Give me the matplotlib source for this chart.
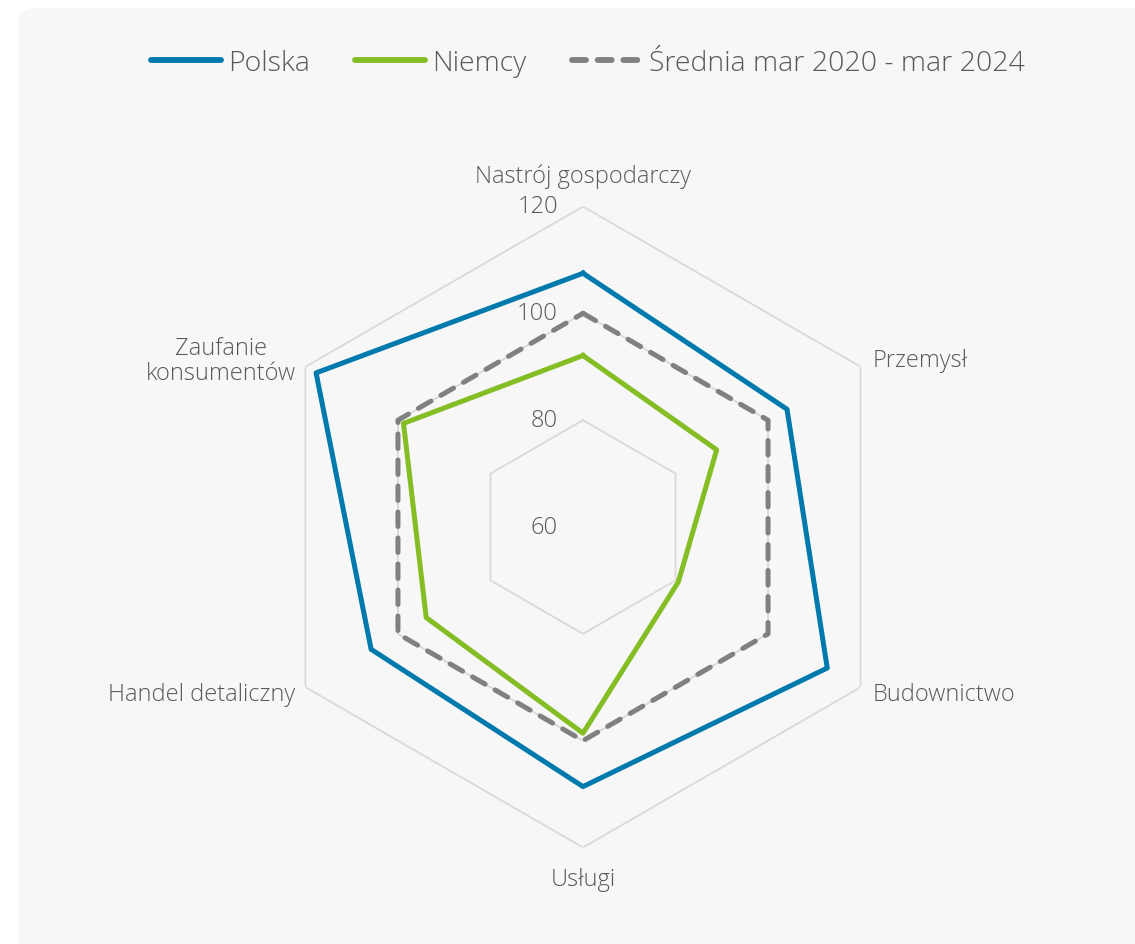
import numpy as np
import matplotlib.pyplot as plt
from matplotlib.patches import FancyBboxPatch
from matplotlib.lines import Line2D

plt.rcParams['font.family'] = ['Open Sans', 'DejaVu Sans']

categories = ['Nastrój gospodarczy', 'Przemysł', 'Budownictwo', 'Usługi',
              'Handel detaliczny', 'Zaufanie\nkonsumentów']
polska = [107.5, 104.1, 112.8, 108.6, 105.8, 117.7]
niemcy = [92.1, 88.9, 80.6, 98.6, 93.9, 98.8]
srednia = [100, 100, 100, 100, 100, 100]
levels = [80, 100, 120]
tick_labels = ['60', '80', '100', '120']

text_col = '#595959'
grid_col = '#d9d9d9'

fig = plt.figure(figsize=(11.35, 9.45), dpi=100)
fig.patch.set_facecolor('white')

# light grey card behind the chart
card = FancyBboxPatch((18 / 1135, -0.05), 1.2, 1.0405,
                      boxstyle='round,pad=0,rounding_size=0.016',
                      transform=fig.transFigure, facecolor='#f7f7f7',
                      edgecolor='none', zorder=-5)
fig.patches.append(card)

ax = fig.add_axes([262.5 / 1135, 96.5 / 945, 641 / 1135, 641 / 945], polar=True)
ax.set_zorder(2)
ax.set_facecolor('none')
ax.set_theta_zero_location('N')
ax.set_theta_direction(-1)
ax.set_ylim(60, 120)
ax.grid(False)
ax.spines['polar'].set_visible(False)
ax.set_xticks([])
ax.set_yticks([])

n = len(categories)
angles = np.linspace(0, 2 * np.pi, n, endpoint=False)
closed = np.append(angles, angles[0])

def close(vals):
    return np.append(vals, vals[0])

# hexagonal grid rings
for lv in levels:
    ax.plot(closed, [lv] * (n + 1), color=grid_col, lw=1.3, zorder=1)

# radial value labels along the top axis
for i, lbl in enumerate(tick_labels):
    ax.annotate(lbl, xy=(0, 60 + 20 * i), xytext=(-18, 0), textcoords='offset points',
                ha='right', va='center', fontsize=17, color=text_col,
                fontweight='light')

ax.plot(closed, close(srednia), color='#808080', lw=3.6, ls=(0, (2.9, 2.3)),
        dash_capstyle='round', zorder=3)
ax.plot(closed, close(niemcy), color='#84bd24', lw=3.6, zorder=4)
ax.plot(closed, close(polska), color='#0079ad', lw=3.6, zorder=5)

# category labels around the outer ring
label_pos = [
    ((0, 22), 'center', 'center'),
    ((9, 4.5), 'left', 'center'),
    ((9, -5), 'left', 'center'),
    ((0, -23), 'center', 'center'),
    ((-7, -5), 'right', 'center'),
    ((-7, 4.5), 'right', 'center'),
]
for ang, lbl, (off, ha, va) in zip(angles, categories, label_pos):
    ax.annotate(lbl, xy=(ang, 120), xytext=off, textcoords='offset points',
                ha=ha, va=va, fontsize=17, color=text_col, multialignment='center',
                fontweight='light', linespacing=1.05, annotation_clip=False)

handles = [
    Line2D([], [], color='#0079ad', lw=4.2, solid_capstyle='round'),
    Line2D([], [], color='#84bd24', lw=4.2, solid_capstyle='round'),
    Line2D([], [], color='#808080', lw=4.2, ls=(0, (2.4, 2.0)), dash_capstyle='round'),
]
names = ['Polska', 'Niemcy', 'Średnia mar 2020 - mar 2024']
leg = fig.legend(handles, names, loc='center', bbox_to_anchor=(588 / 1135, 1 - 64 / 945),
                 ncol=3, frameon=False, handlelength=2.45,
                 handletextpad=0.25, columnspacing=1.6, labelcolor=text_col,
                 prop={'size': 20.5, 'weight': 'light'})

fig.savefig('out.png', dpi=100, facecolor='white')
